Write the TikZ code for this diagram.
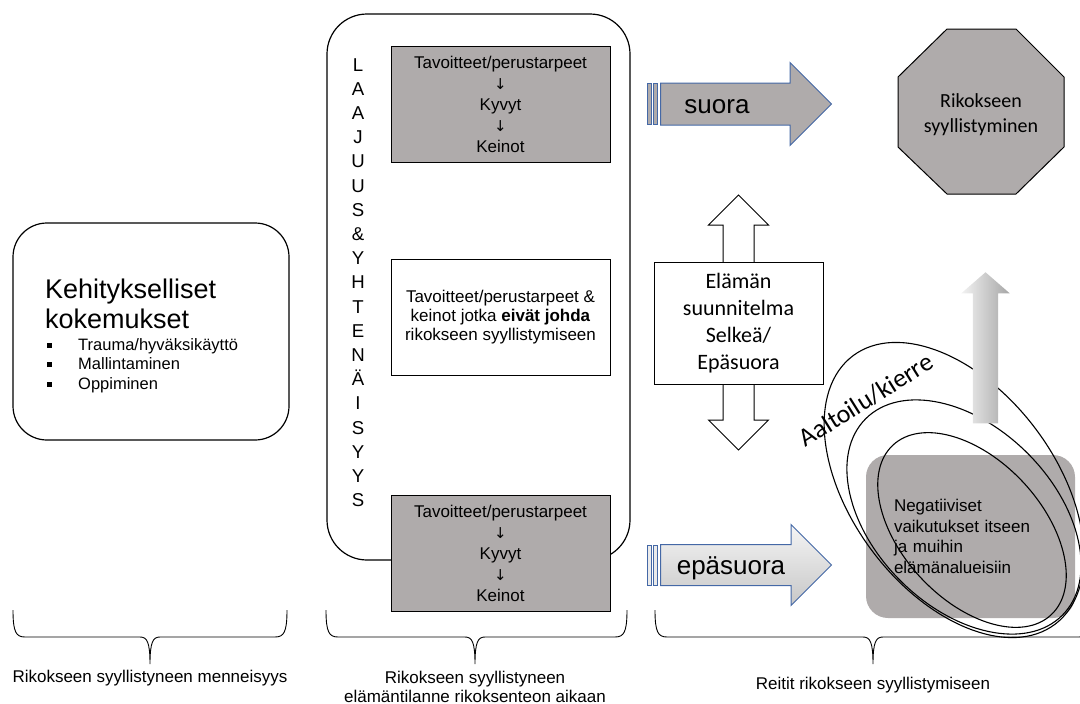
\documentclass[tikz,border=0pt]{standalone}
\usepackage{fontspec}
\setmainfont{Liberation Sans}
\newfontfamily\calibri{Carlito}
\newfontfamily\arrowfont{DejaVu Sans}
\usetikzlibrary{shapes.geometric,shapes.arrows,decorations.pathreplacing,positioning}
\definecolor{boxgray}{RGB}{175,171,171}
\definecolor{arrowblue}{RGB}{68,104,166}
\newcommand{\sqbullet}{\makebox[31pt][l]{\rule[2.5pt]{5pt}{5pt}}}
\newcommand{\dn}{{\arrowfont\fontsize{15}{15}\selectfont ↓}}

\begin{document}
\begin{tikzpicture}[x=1pt,y=-1pt,
    every node/.style={font=\fontsize{17}{20}\selectfont,inner sep=0pt},
    roundbox/.style={draw,line width=1.2pt,rounded corners=#1},
    graybox/.style={draw,line width=0.9pt,fill=boxgray,minimum width=219pt,minimum height=116pt,
      align=center,font=\fontsize{17}{21}\selectfont},
    blockarrow/.style={single arrow,draw=arrowblue,line width=1pt,minimum height=171pt,
      single arrow head indent=0pt,inner xsep=0pt,anchor=tail},
    stripe/.style={draw=arrowblue,line width=0.8pt},
    ring/.style={line width=1.1pt},
    bracepath/.style={line width=0.9pt}]
  \clip (0,0) rectangle (1080,704);

  % Past
  \node[roundbox=34pt,minimum width=276pt,minimum height=217pt] (past) at (151,331.5) {};
  \node[anchor=north west,align=left,font=\fontsize{27}{30}\selectfont] (pasthead) at (45,279) {Kehitykselliset\\kokemukset};
  \node[anchor=north west,align=left,font=\fontsize{16.5}{19.5}\selectfont] (pastlist) at (47,338)
    {\sqbullet Trauma/hyväksikäyttö\\\sqbullet Mallintaminen\\\sqbullet Oppiminen};

  % Life situation
  \node[roundbox=40pt,minimum width=303pt,minimum height=546pt] (life) at (478.5,287) {};
  \node[anchor=north,align=center,font=\fontsize{18.6}{24.2}\selectfont] (unity) at (358,58)
    {L\\A\\A\\J\\U\\U\\S\\\&\\Y\\H\\T\\E\\N\\Ä\\I\\S\\Y\\Y\\S};
  \node[graybox] (goals1) at (500.5,104) {Tavoitteet/perustarpeet\\\dn\\Kyvyt\\\dn\\Keinot};
  \node[draw,line width=0.9pt,fill=white,minimum width=219pt,minimum height=116pt,align=center,
    font=\fontsize{17}{19}\selectfont] (noncrime) at (500.5,317)
    {Tavoitteet/perustarpeet \&\\keinot jotka \textbf{eivät johda}\\rikokseen syyllistymiseen};
  \node[graybox] (goals2) at (500.5,553.5) {Tavoitteet/perustarpeet\\\dn\\Kyvyt\\\dn\\Keinot};

  % Braces
  \foreach \a/\m/\b in {13/150/287,326/475/627,655/873/1091} {
    \draw[bracepath] (\a,610) .. controls (\a,632) and (\a+3,637) .. (\a+12,637) -- (\m-10,637)
      .. controls (\m-3,637) and (\m,642) .. (\m,664) .. controls (\m,642) and (\m+3,637) .. (\m+10,637)
      -- (\b-12,637) .. controls (\b-3,637) and (\b,632) .. (\b,610);
  }
  \node[anchor=north] (pastlabel) at (150,670) {Rikokseen syyllistyneen menneisyys};
  \node[anchor=north,align=center,font=\fontsize{17}{19}\selectfont] (lifelabel) at (475,671)
    {Rikokseen syyllistyneen\\elämäntilanne rikoksenteon aikaan};
  \node[anchor=north] (routelabel) at (873,677) {Reitit rikokseen syyllistymiseen};

  % Routes
  \draw[stripe,fill=boxgray] (647,83.5) rectangle (651,124.5);
  \draw[stripe,fill=boxgray] (653,83.5) rectangle (657,124.5);
  \node[blockarrow,fill=boxgray,inner ysep=20.5pt,single arrow head extend=20.5pt] (direct) at (660,104) {};
  \node[font=\fontsize{26}{30}\selectfont] (directlabel) at (717,107) {suora};

  \draw[stripe,fill=black!8] (647,545) rectangle (651,585);
  \draw[stripe,fill=black!8] (653,545) rectangle (657,585);
  \node[blockarrow,top color=white!96!black,bottom color=black!22,inner ysep=20pt,
    single arrow head extend=20pt] (indirect) at (660,565) {};
  \node[font=\fontsize{26}{30}\selectfont] (indirectlabel) at (731,568) {epäsuora};

  % Life plan
  \node[double arrow,draw,line width=1pt,fill=white,rotate=90,minimum height=255pt,inner xsep=0pt,
    inner ysep=15pt,double arrow head extend=14.5pt] (planarrow) at (738.5,322.5) {};
  \node[draw,line width=1pt,fill=white,minimum width=169pt,minimum height=122pt,align=center,
    font=\calibri\fontsize{22}{27}\selectfont] (plan) at (738.5,323) {Elämän\\suunnitelma\\Selkeä/\\Epäsuora};

  % Crime
  \draw[line width=1pt,fill=boxgray] (947,29) -- (1016,29) -- (1064,77) -- (1064,147) -- (1016,194)
    -- (947,194) -- (898,147) -- (898,77) -- cycle;
  \node[align=center,font=\calibri\fontsize{20}{25}\selectfont] (crime) at (981,114.5) {Rikokseen\\syyllistyminen};

  % Negative effects and the spiral
  \node[fill=boxgray,rounded corners=22pt,minimum width=209pt,minimum height=163pt,text width=153pt,
    align=left,font=\fontsize{17}{20.5}\selectfont] (effects) at (970.5,536.5)
    {Negatiiviset\\vaikutukset itseen\\ja muihin\\elämänalueisiin};
  \draw[ring,rotate around={-53:(954,490)}] (954,490) ellipse [x radius=168pt,y radius=102pt];
  \draw[ring,rotate around={-45:(964,517)}] (964,517) ellipse [x radius=139pt,y radius=90pt];
  \draw[ring,rotate around={-47:(972,530)}] (972,530) ellipse [x radius=116pt,y radius=70pt];
  \node[rotate=32,font=\calibri\fontsize{26}{30}\selectfont] (wave) at (866,400) {Aaltoilu/kierre};
  \node[single arrow,rotate=90,anchor=tip,minimum height=151pt,inner xsep=0pt,inner ysep=12.5pt,
    single arrow head extend=11.5pt,single arrow tip angle=98,left color=white!95!black,
    right color=black!35] (rise) at (985.5,272) {};
\end{tikzpicture}
\end{document}
